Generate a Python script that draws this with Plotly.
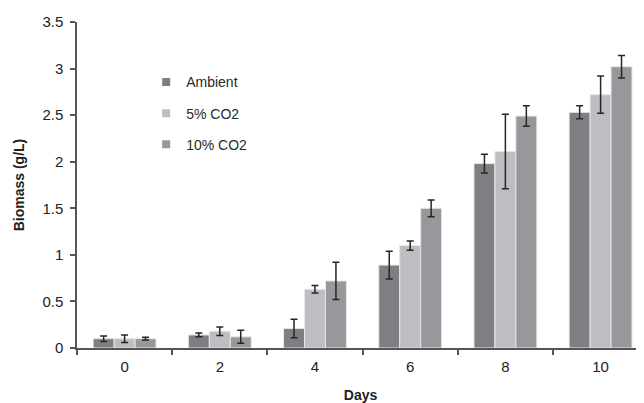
import plotly.graph_objects as go

days = ["0", "2", "4", "6", "8", "10"]
series_names = ["Ambient", "5% CO2", "10% CO2"]
ambient = [0.10, 0.14, 0.21, 0.89, 1.98, 2.53]
ambient_err = [0.03, 0.02, 0.10, 0.15, 0.10, 0.07]
co2_5 = [0.10, 0.18, 0.63, 1.10, 2.11, 2.72]
co2_5_err = [0.04, 0.045, 0.04, 0.05, 0.40, 0.20]
co2_10 = [0.10, 0.12, 0.72, 1.50, 2.49, 3.02]
co2_10_err = [0.015, 0.07, 0.20, 0.09, 0.11, 0.12]

colors = ["#7e7f83", "#bdbec1", "#97989c"]
values = [ambient, co2_5, co2_10]
errors = [ambient_err, co2_5_err, co2_10_err]

FONT = "Liberation Sans, Arial, sans-serif"

fig = go.Figure()
for name, v, e, c in zip(series_names, values, errors, colors):
    fig.add_trace(go.Bar(
        x=days, y=v, name=name, showlegend=False,
        marker=dict(color=c, line=dict(color="#e6e6e6", width=1)),
        error_y=dict(type="data", array=e, visible=True, color="#262626",
                     thickness=1.5, width=3.5),
    ))
for i, (name, c) in enumerate(zip(series_names, colors)):
    fig.add_trace(go.Scatter(
        x=[None], y=[None], mode="markers", name=name,
        legendgroup=f"g{i}",
        marker=dict(symbol="square", size=8, color=c),
    ))

fig.update_layout(
    width=644, height=403,
    margin=dict(l=69, r=8, t=14, b=63, autoexpand=False),
    paper_bgcolor="white", plot_bgcolor="white",
    barmode="group", bargap=0.34, bargroupgap=0,
    font=dict(family=FONT, size=13, color="#222222"),
    legend=dict(x=0.122, y=0.864, xanchor="left", yanchor="top",
                font=dict(size=14, color="#2a2a2a"), tracegroupgap=10,
                bgcolor="rgba(0,0,0,0)", itemwidth=30),
    xaxis=dict(
        type="category", range=[-0.5, 5.456], automargin=False,
        showline=True, linecolor="#555555", linewidth=1.5,
        ticks="outside", tickson="boundaries", ticklen=5, tickcolor="#555555",
        tickwidth=1.5, ticklabelstandoff=4,
        showgrid=False, zeroline=False,
        title=dict(text="<b>Days</b>", font=dict(size=14), standoff=16),
        tickfont=dict(size=15),
    ),
    yaxis=dict(
        range=[0, 3.5], dtick=0.5, tick0=0, automargin=False,
        showline=True, linecolor="#555555", linewidth=1.5,
        ticks="outside", ticklen=5, tickcolor="#555555", tickwidth=1.5,
        ticklabelstandoff=4,
        showgrid=False, zeroline=False,
        title=dict(text="<b>Biomass (g/L)</b>", font=dict(size=14), standoff=14),
        tickfont=dict(size=15),
    ),
)

fig.write_html("out.html")
